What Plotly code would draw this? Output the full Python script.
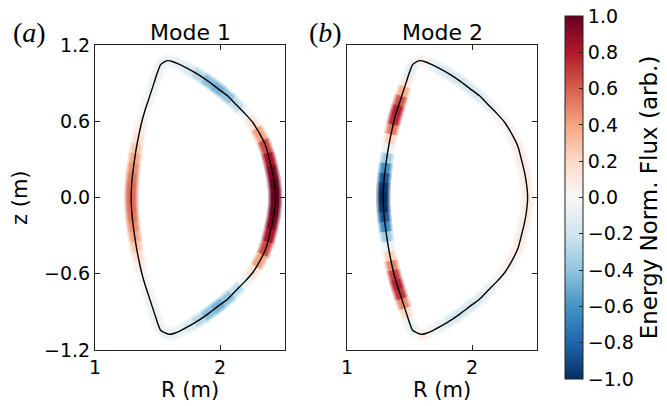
import math
import plotly.graph_objects as go
from plotly.colors import diverging, make_colorscale, sample_colorscale, unlabel_rgb

# ---------------- data ----------------
# plasma boundary (m), counter-clockwise from the outer midplane
R_b = [2.445, 2.437, 2.420, 2.395, 2.368, 2.318, 2.262, 2.200, 2.130, 2.060,
       1.985, 1.910, 1.830, 1.750, 1.680, 1.625, 1.585, 1.555, 1.525, 1.500,
       1.475, 1.450, 1.425, 1.400, 1.378, 1.360, 1.344, 1.330, 1.318, 1.307,
       1.298, 1.292, 1.289,
       1.292, 1.298, 1.307, 1.318, 1.330, 1.344, 1.360, 1.378, 1.400, 1.425,
       1.450, 1.475, 1.500, 1.525, 1.565, 1.598, 1.635, 1.690, 1.755, 1.832,
       1.910, 1.985, 2.060, 2.130, 2.200, 2.262, 2.318, 2.368, 2.395, 2.420,
       2.437]
Z_b = [0.000, 0.100, 0.200, 0.300, 0.400, 0.500, 0.590, 0.660, 0.730, 0.800,
       0.855, 0.912, 0.965, 1.010, 1.045, 1.068, 1.077, 1.068, 1.045, 0.985,
       0.910, 0.835, 0.760, 0.685, 0.610, 0.535, 0.460, 0.385, 0.310, 0.230,
       0.155, 0.078, 0.000,
       -0.078, -0.155, -0.230, -0.310, -0.385, -0.460, -0.535, -0.610, -0.685, -0.760,
       -0.835, -0.910, -0.985, -1.045, -1.068, -1.077, -1.068, -1.045, -1.010, -0.965,
       -0.912, -0.855, -0.800, -0.730, -0.660, -0.590, -0.500, -0.400, -0.300, -0.200,
       -0.100]

# energy-normalised flux along the boundary (arb.)
flux_mode1 = [1.00, 0.98, 0.93, 0.82, 0.65, 0.40, 0.15, -0.05, -0.25, -0.40,
              -0.47, -0.42, -0.28, -0.16, -0.09, -0.08, -0.08, -0.08, -0.07, -0.06,
              -0.05, -0.04, -0.03, -0.01, 0.03, 0.08, 0.16, 0.27, 0.38, 0.46,
              0.52, 0.55, 0.56,
              0.55, 0.52, 0.46, 0.38, 0.27, 0.16, 0.08, 0.03, -0.01, -0.03,
              -0.04, -0.05, -0.06, -0.07, -0.08, -0.08, -0.08, -0.09, -0.16, -0.28,
              -0.42, -0.47, -0.40, -0.25, -0.05, 0.15, 0.40, 0.65, 0.82, 0.93,
              0.98]
flux_mode2 = [0.08, 0.08, 0.08, 0.08, 0.07, 0.06, 0.03, -0.02, -0.08, -0.13,
              -0.16, -0.17, -0.16, -0.13, -0.07, 0.03, 0.07, 0.02, -0.10, -0.10,
              0.10, 0.35, 0.62, 0.78, 0.75, 0.52, 0.22, -0.05, -0.35, -0.62,
              -0.85, -0.97, -1.00,
              -0.97, -0.85, -0.62, -0.35, -0.05, 0.22, 0.48, 0.68, 0.78, 0.72,
              0.48, 0.18, -0.06, -0.10, 0.00, 0.07, 0.04, -0.04, -0.09, -0.14,
              -0.17, -0.16, -0.13, -0.08, -0.02, 0.03, 0.06, 0.07, 0.08, 0.08,
              0.08]

panel_titles = ["Mode 1", "Mode 2"]
panel_letters = ["a", "b"]
x_ticks = [1, 2]
x_ticktext = ["1", "2"]
y_ticks = [-1.2, -0.6, 0.0, 0.6, 1.2]
y_ticktext = ["\u22121.2", "\u22120.6", "0.0", "0.6", "1.2"]
cbar_ticks = [-1.0, -0.8, -0.6, -0.4, -0.2, 0.0, 0.2, 0.4, 0.6, 0.8, 1.0]
cbar_ticktext = ["\u22121.0", "\u22120.8", "\u22120.6", "\u22120.4", "\u22120.2",
                 "0.0", "0.2", "0.4", "0.6", "0.8", "1.0"]
x_range = [1.0, 2.52]
y_range = [-1.2, 1.2]
cbar_title = "Energy Norm. Flux (arb.)"

# ---------------- figure ----------------
W, H = 667, 406
X_DOMS = [[95 / W, 285 / W], [347 / W, 537 / W]]
Y_DOM = [1 - 350 / H, 1 - 45 / H]
SX = (285 - 95) / (x_range[1] - x_range[0])      # px per metre, horizontal
SY = (350 - 45) / (y_range[1] - y_range[0])      # px per metre, vertical
scale = make_colorscale(list(reversed(diverging.RdBu)))


def band_color(v, alpha):
    t = min(max((v + 1) / 2, 0), 1)
    r, g, b = unlabel_rgb(sample_colorscale(scale, [t])[0])
    r = 255 + (r - 255) * alpha
    g = 255 + (g - 255) * alpha
    b = 255 + (b - 255) * alpha
    return f"rgb({r:.0f},{g:.0f},{b:.0f})"


def normal(i, j):
    dx = (R_b[j] - R_b[i]) * SX
    dy = (Z_b[j] - Z_b[i]) * SY
    n = math.hypot(dx, dy)
    return dy / n, -dx / n


fig = go.Figure()
N = len(R_b)
layers = [(6.8, 0.35), (5.3, 0.7), (3.8, 1.0)]
for p, vals in enumerate([flux_mode1, flux_mode2]):
    xa = "x" if p == 0 else "x2"
    ya = "y" if p == 0 else "y2"
    for hw, alpha in layers:
        for i in range(N):
            a, b = (i - 1) % N, (i + 1) % N
            ma = ((R_b[a] + R_b[i]) / 2, (Z_b[a] + Z_b[i]) / 2)
            mb = ((R_b[i] + R_b[b]) / 2, (Z_b[i] + Z_b[b]) / 2)
            na = normal(a, i)
            nb = normal(i, b)
            xs = [ma[0] + hw * na[0] / SX, mb[0] + hw * nb[0] / SX,
                  mb[0] - hw * nb[0] / SX, ma[0] - hw * na[0] / SX]
            ys = [ma[1] + hw * na[1] / SY, mb[1] + hw * nb[1] / SY,
                  mb[1] - hw * nb[1] / SY, ma[1] - hw * na[1] / SY]
            c = band_color(vals[i], alpha)
            fig.add_trace(go.Scatter(
                x=xs, y=ys, mode="lines", fill="toself", fillcolor=c,
                line=dict(color=c, width=0.7), xaxis=xa, yaxis=ya,
                hoverinfo="skip", showlegend=False))
    # colour-mapped markers (carry the colour bar)
    fig.add_trace(go.Scatter(
        x=R_b, y=Z_b, mode="markers", xaxis=xa, yaxis=ya,
        marker=dict(color=vals, colorscale=scale, cmin=-1, cmax=1, size=1,
                    opacity=0.01, showscale=(p == 0),
                    colorbar=dict(
                        x=565 / W, xanchor="left", xpad=0,
                        y=1 - 197.5 / H, yanchor="middle", ypad=0,
                        len=363 / H, lenmode="fraction", thickness=18,
                        outlinewidth=1, outlinecolor="#222",
                        tickvals=cbar_ticks, ticktext=cbar_ticktext,
                        ticks="inside", ticklen=4, tickcolor="#222",
                        tickfont=dict(size=19, color="black"),
                        title=dict(text=cbar_title, side="right",
                                   font=dict(size=23, color="black")))),
        showlegend=False))
    # boundary line
    fig.add_trace(go.Scatter(
        x=R_b + [R_b[0]], y=Z_b + [Z_b[0]], mode="lines", xaxis=xa, yaxis=ya,
        line=dict(color="black", width=1.4, shape="spline", smoothing=0.6),
        hoverinfo="skip", showlegend=False))

axis_common = dict(showgrid=False, zeroline=False, showline=True, linecolor="#222",
                   linewidth=1, mirror="ticks", ticks="inside", ticklen=5,
                   tickcolor="#222", tickfont=dict(size=19, color="black"),
                   automargin=False)
fig.update_layout(
    width=W, height=H, margin=dict(l=0, r=0, t=0, b=0, autoexpand=False),
    paper_bgcolor="white", plot_bgcolor="white",
    font=dict(family="DejaVu Sans", color="black"),
    xaxis=dict(domain=X_DOMS[0], range=x_range, tickvals=x_ticks,
               ticktext=x_ticktext, anchor="y", **axis_common),
    yaxis=dict(domain=Y_DOM, range=y_range, tickvals=y_ticks,
               ticktext=y_ticktext, anchor="x", **axis_common),
    xaxis2=dict(domain=X_DOMS[1], range=x_range, tickvals=x_ticks,
                ticktext=x_ticktext, anchor="y2", **axis_common),
    yaxis2=dict(domain=Y_DOM, range=y_range, tickvals=y_ticks,
                showticklabels=False, anchor="x2", **axis_common),
)

centers = [190, 442]
letter_x = [29, 325]
for p in range(2):
    fig.add_annotation(x=centers[p] / W, y=1 - 32 / H, xref="paper", yref="paper",
                       text=panel_titles[p], showarrow=False, xanchor="center",
                       yanchor="middle", font=dict(size=22, color="black"))
    fig.add_annotation(x=letter_x[p] / W, y=1 - 33 / H, xref="paper", yref="paper",
                       text=f"(<i>{panel_letters[p]}</i>)", showarrow=False,
                       xanchor="center", yanchor="middle",
                       font=dict(size=28, family="Liberation Serif", color="black"))
    fig.add_annotation(x=centers[p] / W, y=1 - 390 / H, xref="paper", yref="paper",
                       text="R (m)", showarrow=False, xanchor="center",
                       yanchor="middle", font=dict(size=21, color="black"))
fig.add_annotation(x=20 / W, y=1 - 198 / H, xref="paper", yref="paper",
                   text="z (m)", showarrow=False, textangle=-90, xanchor="center",
                   yanchor="middle", font=dict(size=21, color="black"))

fig.write_html("out.html")
